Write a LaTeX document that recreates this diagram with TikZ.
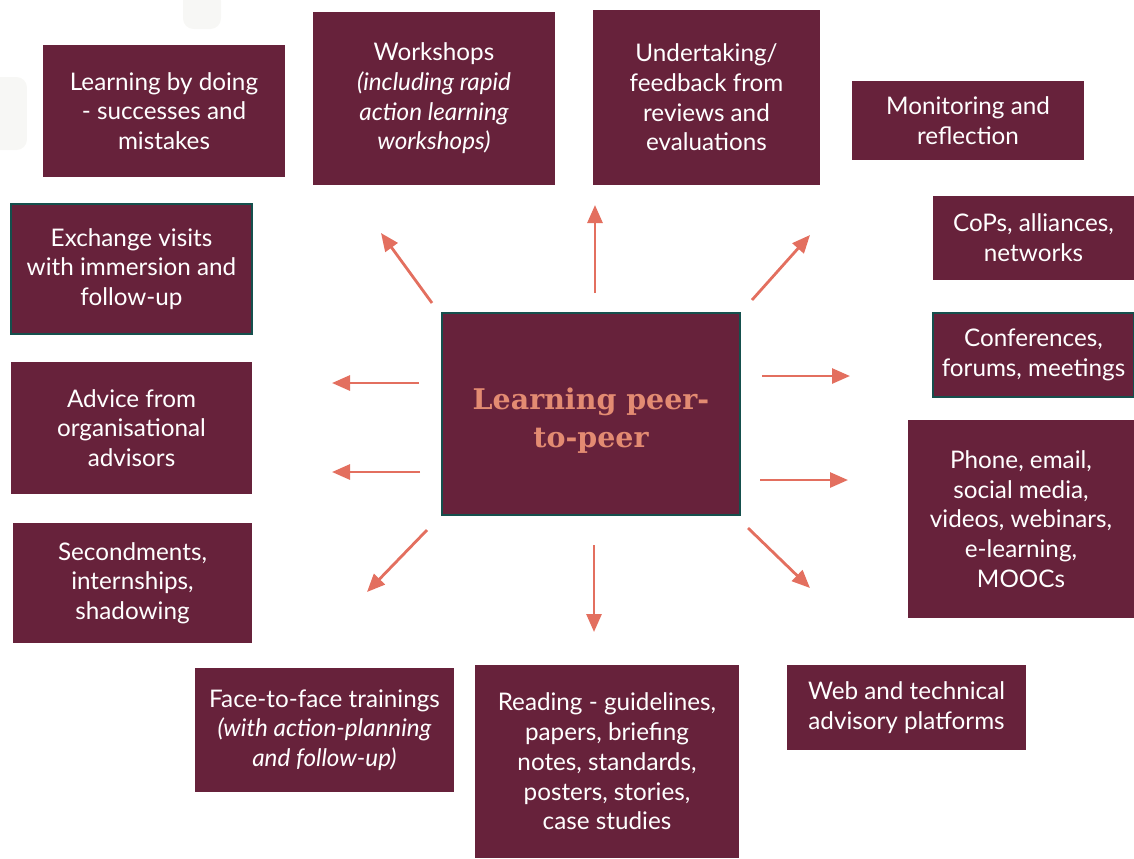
\documentclass[tikz,border=0pt]{standalone}
\usepackage{fontspec}
\setmainfont{Lato}
\newfontfamily\slabfont{DejaVu Serif}
\usepackage{tikz}
\usepackage{xcolor}
\usetikzlibrary{
    arrows.meta,
    positioning
}
\definecolor{wine}{HTML}{67223B}
\definecolor{salmon}{HTML}{E36F5F}
\definecolor{peach}{HTML}{E38B72}
\definecolor{teal}{HTML}{15504D}
\definecolor{mist}{HTML}{F7F7F5}
\tikzset{
    % Activity box style
    activity/.style={
        rectangle,
        align=center,
        font=\fontsize{13.8}{16.9}\selectfont,
        text=white,
        fill=wine,
        inner sep=2pt
    },
    % Boxes with a teal frame
    framed/.style={
        activity,
        draw=teal,
        line width=1.3pt
    },
    % Central hub text style
    hub text/.style={
        align=center,
        font=\slabfont\bfseries\fontsize{16.2}{21.5}\selectfont,
        text=peach
    },
    % Arrow style
    flow/.style={
        -{Triangle[length=3.6mm, width=3mm]},
        line width=1.6pt,
        color=salmon
    }
}
\begin{document}
\begin{tikzpicture}

        \useasboundingbox (0,0) rectangle (22.68,-17.16);

        % Faint background marks
        \fill[mist, rounded corners=6pt] (-0.2,-1.54) rectangle (0.54,-3.0);
        \fill[mist, rounded corners=6pt] (3.66,0.2) rectangle (4.42,-0.58);

        % Hub
        \node[framed, minimum width=5.96cm, minimum height=4.04cm,
              label={[hub text, yshift=-0.14cm]center:Learning peer-\\to-peer}] (hub) at (11.82,-8.28) {};

        % Top row
        \node[activity, minimum width=4.84cm, minimum height=2.64cm] (doing) at (3.28,-2.22) {Learning by doing\\- successes and\\mistakes};
        \node[activity, minimum width=4.84cm, minimum height=3.46cm] (workshops) at (8.68,-1.97) {Workshops\\\itshape(including rapid\\\itshape action learning\\\itshape workshops)};
        \node[activity, minimum width=4.54cm, minimum height=3.50cm] (reviews) at (14.13,-1.95) {Undertaking/\\feedback from\\reviews and\\evaluations};
        \node[activity, minimum width=4.64cm, minimum height=1.58cm] (monitoring) at (19.36,-2.41) {Monitoring and\\reflection};

        % Right column
        \node[activity, minimum width=4.02cm, minimum height=1.68cm] (cops) at (20.67,-4.76) {CoPs, alliances,\\networks};
        \node[framed, minimum width=4.02cm, minimum height=1.68cm] (conferences) at (20.67,-7.10) {Conferences,\\forums, meetings};
        \node[activity, minimum width=4.52cm, minimum height=3.96cm] (online) at (20.42,-10.38) {Phone, email,\\social media,\\videos, webinars,\\e-learning,\\MOOCs};

        % Bottom row
        \node[activity, minimum width=4.78cm, minimum height=1.70cm] (platforms) at (18.13,-14.15) {Web and technical\\advisory platforms};
        \node[activity, minimum width=5.28cm, minimum height=3.86cm] (reading) at (12.14,-15.23) {Reading - guidelines,\\papers, briefing\\notes, standards,\\posters, stories,\\case studies};
        \node[activity, minimum width=5.18cm, minimum height=2.48cm] (trainings) at (6.49,-14.60) {Face-to-face trainings\\\itshape(with action-planning\\\itshape and follow-up)};

        % Left column
        \node[activity, minimum width=4.78cm, minimum height=2.40cm] (secondments) at (2.65,-11.66) {Secondments,\\internships,\\shadowing};
        \node[activity, minimum width=4.82cm, minimum height=2.64cm] (advice) at (2.63,-8.56) {Advice from\\organisational\\advisors};
        \node[framed, minimum width=4.82cm, minimum height=2.60cm] (exchange) at (2.63,-5.38) {Exchange visits\\with immersion and\\follow-up};

        % Arrow ends
        \coordinate (upleft s) at (8.64,-6.06);    \coordinate (upleft e) at (7.62,-4.66);
        \coordinate (up s) at (11.90,-5.86);       \coordinate (up e) at (11.90,-4.10);
        \coordinate (upright s) at (15.04,-6.00);  \coordinate (upright e) at (16.20,-4.70);
        \coordinate (right1 s) at (15.24,-7.52);   \coordinate (right1 e) at (17.00,-7.52);
        \coordinate (right2 s) at (15.20,-9.60);   \coordinate (right2 e) at (16.96,-9.60);
        \coordinate (downright s) at (14.96,-10.56); \coordinate (downright e) at (16.20,-11.76);
        \coordinate (down s) at (11.88,-10.90);    \coordinate (down e) at (11.88,-12.64);
        \coordinate (downleft s) at (8.54,-10.60); \coordinate (downleft e) at (7.34,-11.84);
        \coordinate (left2 s) at (8.40,-9.44);     \coordinate (left2 e) at (6.64,-9.44);
        \coordinate (left1 s) at (8.38,-7.66);     \coordinate (left1 e) at (6.64,-7.66);

        % Connections
        \draw[flow] (upleft s) -- (upleft e);
        \draw[flow] (up s) -- (up e);
        \draw[flow] (upright s) -- (upright e);
        \draw[flow] (right1 s) -- (right1 e);
        \draw[flow] (right2 s) -- (right2 e);
        \draw[flow] (downright s) -- (downright e);
        \draw[flow] (down s) -- (down e);
        \draw[flow] (downleft s) -- (downleft e);
        \draw[flow] (left2 s) -- (left2 e);
        \draw[flow] (left1 s) -- (left1 e);

    \end{tikzpicture}
\end{document}
